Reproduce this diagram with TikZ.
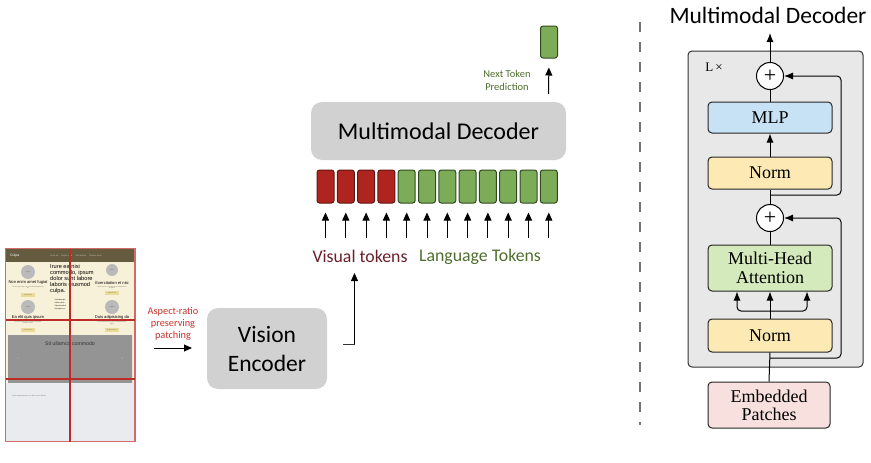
\documentclass[tikz,border=0pt]{standalone}
\usepackage{fontspec}
\setmainfont{Liberation Serif}
\newfontfamily\calfont{Carlito}
\newfontfamily\thumbfont{Liberation Sans}
\usetikzlibrary{arrows.meta}

\definecolor{boxgray}{HTML}{D2D1D2}
\definecolor{tokred}{HTML}{B0241F}
\definecolor{tokredline}{HTML}{5E1712}
\definecolor{tokgreen}{HTML}{7DAC58}
\definecolor{tokgreenline}{HTML}{2F4A1F}
\definecolor{vistext}{HTML}{6B1E2A}
\definecolor{langtext}{HTML}{4E6E2E}
\definecolor{patchred}{HTML}{C8302A}
\definecolor{outerfill}{HTML}{E8E8E8}
\definecolor{mlpfill}{HTML}{C7E2F4}
\definecolor{normfill}{HTML}{FCE9B4}
\definecolor{mhafill}{HTML}{D4EABD}
\definecolor{embfill}{HTML}{F7E0DE}
\definecolor{pagebeige}{HTML}{F8F1D9}
\definecolor{headolive}{HTML}{655C3F}
\definecolor{btnyellow}{HTML}{EADB98}
\definecolor{footgray}{HTML}{E9EBEE}
\definecolor{gridred}{HTML}{BC2B26}

\tikzset{
  arr/.style={-{Triangle[length=8pt,width=7pt]}, line width=1pt, black},
  arrT/.style={-{Latex[length=9pt,width=7pt]}, line width=1pt, black},
  tok/.style={draw, line width=1pt, rounded corners=2.5pt, minimum width=17pt, minimum height=33pt, inner sep=0pt},
  graybox/.style={fill=boxgray, rounded corners=11pt, inner sep=0pt, align=center},
  tblock/.style={draw=black!85, line width=1pt, rounded corners=4pt, minimum width=124pt, inner sep=0pt, align=center, font=\fontsize{18}{19}\selectfont},
  oplus/.style={circle, draw, line width=1pt, fill=white, minimum size=27pt, inner sep=0pt, font=\fontsize{22}{22}\selectfont},
  thumbtxt/.style={font=\thumbfont\fontsize{#1}{#1}\selectfont, inner sep=0pt},
  circ/.style={circle, fill=black!27, minimum size=#1, inner sep=0pt},
  btn/.style={fill=btnyellow, minimum width=14pt, minimum height=4pt, inner sep=0pt},
}

\begin{document}
\begin{tikzpicture}[x=1pt, y=-1pt]
\useasboundingbox (0,0) rectangle (871,463);

% ---------- page thumbnail ----------
\fill[pagebeige] (6,249) rectangle (135,383);
\fill[headolive] (6,249) rectangle (135,262);
\node[thumbtxt=3.5, text=white, anchor=west] (brand) at (10,255.5) {Culpa};
\node[thumbtxt=2.2, text=white!75!black, anchor=west] (nav) at (50,255.5) {Anim ea \quad Fugiat nulla \quad Velit dolore \quad Tempor dolor};

% left column
\node[circ=14pt] (c1) at (28,272) {};
\node[thumbtxt=1.6, text=black!60] at (c1) {Nulla};
\node[thumbtxt=4.1] (h1) at (28,282) {Non enim amet fugiat};
\node[thumbtxt=1.6, text=black!55, align=center] (s1) at (28,287.5) {Elit elit quis laboris ut ex eiusmod adipiscing\\ad};
\node[btn] (b1) at (28,295) {};
\node[thumbtxt=1.5, text=black!60] at (b1) {Tempor velit};
\node[circ=14pt] (c2) at (28,307) {};
\node[thumbtxt=1.6, text=black!60] at (c2) {Fugiat};
\node[thumbtxt=4.1] (h2) at (28,317) {Ea elit quis ipsum};
\node[thumbtxt=1.6, text=black!55, align=center] (s2) at (28,322.5) {Occaecat est laboris dolore qui fugiat\\pariatur minim};
\node[btn] (b2) at (28,330) {};
\node[thumbtxt=1.5, text=black!60] at (b2) {Laboris lorem};

% middle column
\node[anchor=north west, align=left, inner sep=0pt, font=\thumbfont\fontsize{5.7}{6}\selectfont] (mid) at (50,264.5) {Irure ea nisi\\commodo, ipsum\\dolor sunt labore\\laboris eiusmod\\culpa.};
\node[anchor=north west, align=left, inner sep=0pt, font=\thumbfont\fontsize{1.7}{3}\selectfont] (bul) at (54,299) {\textbullet\ Cupidatat qui\\\textbullet\ Minim cillum\\\textbullet\ Reprehenderit\\\textbullet\ Excepteur ex};

% right column
\node[circ=12pt] (c3) at (112,270) {};
\node[thumbtxt=1.6, text=black!60] at (c3) {Minim};
\node[thumbtxt=4.1] (h3) at (112,283) {Exercitation et nisi};
\node[thumbtxt=1.6, text=black!55, align=center] (s3) at (112,287.5) {Minim qui ut consequat esse aliqua anim\\proident};
\node[btn] (b3) at (112,293) {};
\node[thumbtxt=1.5, text=black!60] at (b3) {Culpa ut sint};
\node[circ=14pt] (c4) at (112,307) {};
\node[thumbtxt=1.6, text=black!60] at (c4) {Labore};
\node[thumbtxt=4.1] (h4) at (112,317.5) {Duis adipisicing do};
\node[thumbtxt=1.6, text=black!55, align=center] (s4) at (112,323) {Sunt consectetur nostrud voluptate dolor\\fugiat};
\node[btn] (b4) at (112,330) {};
\node[thumbtxt=1.5, text=black!60] at (b4) {Reprehenderit};

% carousel
\shade[left color=black!42, middle color=black!30, right color=black!42] (8,335) rectangle (132,383);
\node[thumbtxt=5.2, text=black!80] (car) at (70,344) {Sit ullamco commodo};
\node[thumbtxt=3, text=white] (prev) at (18,359) {‹};
\node[thumbtxt=3, text=white] (next) at (122,359) {›};

% footer
\fill[footgray] (6,383) rectangle (135,441);
\node[thumbtxt=1.7, text=black!55, anchor=west] (foot) at (12,396) {Culpa aliquip pariatur non dolor lorem laboris};

% patch grid
\draw[gridred!70, line width=1.5pt] (5.5,248.5) rectangle (135,441.5);
\draw[gridred, line width=2pt] (70,248.5) -- (70,441.5);
\draw[gridred, line width=2pt] (5.5,320) -- (135,320);
\draw[gridred, line width=2pt] (5.5,379) -- (135,379);

% ---------- patching and vision encoder ----------
\node[font=\calfont\fontsize{10.3}{12}\selectfont, text=patchred, align=center] (patchlbl) at (173,324) {Aspect-ratio\\preserving\\patching};
\coordinate (pa) at (154,348);
\coordinate (pb) at (192,348);
\draw[arr] (pa) -- (pb);

\node[graybox, minimum width=120pt, minimum height=81pt, font=\calfont\fontsize{23.5}{29}\selectfont] (venc) at (267,348.5) {Vision\\Encoder};

\coordinate (veout) at (343,344);
\coordinate (vtop) at (354.5,273);
\draw[line width=1pt, black!80] (veout) -- (veout -| vtop);
\draw[arr] (veout -| vtop) -- (vtop);

% ---------- multimodal decoder (overview) ----------
\node[graybox, minimum width=255pt, minimum height=58pt, font=\calfont\fontsize{24}{24}\selectfont] (mdec) at (438.5,131) {Multimodal Decoder};

\foreach \i in {0,...,11}{
  \pgfmathsetmacro{\tx}{325.5+\i*20.3}
  \ifnum\i<4
    \node[tok, fill=tokred, draw=tokredline] (t\i) at (\tx,186.5) {};
  \else
    \node[tok, fill=tokgreen, draw=tokgreenline] (t\i) at (\tx,186.5) {};
  \fi
  \coordinate (tb\i) at (\tx,238);
  \draw[arr, shorten >=9pt] (tb\i) -- (t\i.south);
}

\node[font=\calfont\fontsize{17.8}{17.8}\selectfont, text=vistext] (vislbl) at (360,256.5) {Visual tokens};
\node[font=\calfont\fontsize{17.8}{17.8}\selectfont, text=langtext] (langlbl) at (480,256.5) {Language Tokens};

\node[tok, fill=tokgreen, draw=tokgreenline, minimum height=32pt] (nexttok) at (549,42) {};
\coordinate (nextbase) at (548.5,94);
\draw[arr, shorten >=9pt] (nextbase) -- (nexttok.south);
\node[font=\calfont\fontsize{10.5}{12.5}\selectfont, text=langtext, align=center] (nextlbl) at (507,80.5) {Next Token\\Prediction};

% ---------- separator ----------
\coordinate (sepT) at (640,22);
\coordinate (sepB) at (640,425);
\draw[black!55, line width=2.5pt, dash pattern=on 10pt off 10pt] (sepT) -- (sepB);

% ---------- multimodal decoder (detail) ----------
\node[font=\calfont\fontsize{23.5}{23.5}\selectfont] (dtitle) at (768,15) {Multimodal Decoder};

\node[draw=black!80, fill=outerfill, line width=1pt, rounded corners=4pt, minimum width=175pt, minimum height=316pt, inner sep=0pt] (outer) at (775.5,209) {};
\node[font=\fontsize{13}{13}\selectfont] (lx) at (714,67) {L\,×};

\node[oplus] (p1) at (770,76) {+};
\node[tblock, fill=mlpfill, minimum height=31pt] (mlp) at (770,117.5) {MLP};
\node[tblock, fill=normfill, minimum height=32pt] (n1) at (770,173) {Norm};
\node[oplus] (p2) at (770,218) {+};
\node[tblock, fill=mhafill, minimum height=46pt] (mha) at (770,268) {Multi-Head\\Attention};
\node[tblock, fill=normfill, minimum height=33pt] (n2) at (770,335.5) {Norm};
\node[tblock, fill=embfill, minimum width=122pt, minimum height=46pt, font=\fontsize{18}{18}\selectfont] (emb) at (769,405) {Embedded\\Patches};

\coordinate (rcol) at (841,0);
\coordinate (r1) at (770,195);
\coordinate (r2) at (770,358);
\coordinate (qkv) at (770,311);
\coordinate (dout) at (770,33);

\draw[line width=1pt] (emb.north) -- (n2.south);
\draw[arrT, rounded corners=4pt] (r2) -| (rcol |- p2) -- (p2.east);
\draw[line width=1pt] (n2.north) -- (qkv);
\draw[arrT] (qkv) -- (mha.south);
\draw[arrT, rounded corners=4pt] (qkv) -| ([xshift=-33pt]mha.south);
\draw[arrT, rounded corners=4pt] (qkv) -| ([xshift=37pt]mha.south);
\draw[line width=1pt] (mha.north) -- (p2.south);
\draw[line width=1pt] (p2.north) -- (n1.south);
\draw[arrT, rounded corners=4pt] (r1) -| (rcol |- p1) -- (p1.east);
\draw[arrT] (n1.north) -- (mlp.south);
\draw[line width=1pt] (mlp.north) -- (p1.south);
\draw[arrT] (p1.north) -- (dout);
\end{tikzpicture}
\end{document}
